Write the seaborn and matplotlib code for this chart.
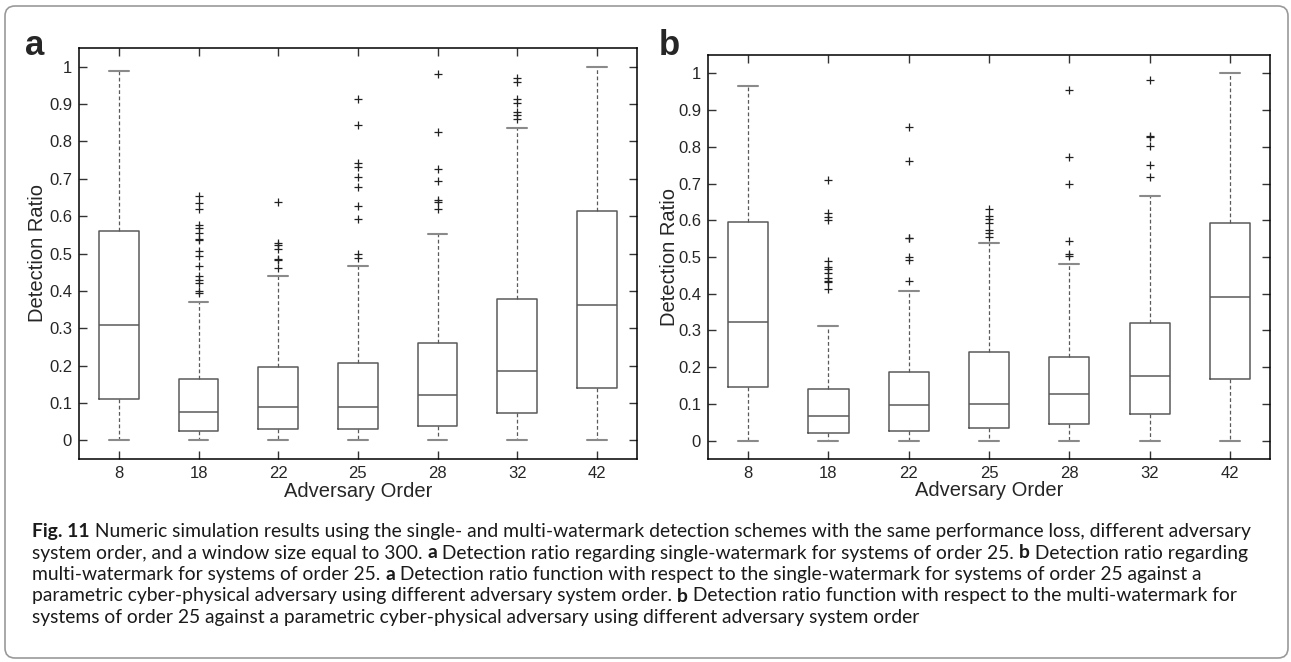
import numpy as np
import pandas as pd
import matplotlib
matplotlib.use("Agg")
import matplotlib.pyplot as plt
from matplotlib.patches import FancyBboxPatch
from matplotlib.transforms import IdentityTransform
import seaborn as sns

# ── data ─────────────────────────────────────────────────────────────────────
orders = ["8", "18", "22", "25", "28", "32", "42"]

# panel a: single-watermark
a_whislo = [0.0, 0.0, 0.0, 0.0, 0.0, 0.0, 0.0]
a_q1     = [0.111, 0.024, 0.031, 0.029, 0.038, 0.074, 0.139]
a_med    = [0.308, 0.075, 0.089, 0.090, 0.122, 0.186, 0.363]
a_q3     = [0.560, 0.165, 0.196, 0.207, 0.261, 0.379, 0.614]
a_whishi = [0.988, 0.369, 0.441, 0.467, 0.551, 0.836, 1.000]
a_fliers = [
    [],
    [0.654, 0.634, 0.619, 0.576, 0.567, 0.554, 0.540, 0.536, 0.506, 0.493,
     0.467, 0.439, 0.430, 0.420, 0.400, 0.393],
    [0.638, 0.529, 0.522, 0.513, 0.485, 0.482, 0.460],
    [0.913, 0.843, 0.743, 0.732, 0.706, 0.677, 0.628, 0.592, 0.500, 0.489],
    [0.980, 0.825, 0.726, 0.694, 0.642, 0.637, 0.618],
    [0.971, 0.960, 0.914, 0.904, 0.879, 0.872, 0.861],
    [],
]

# panel b: multi-watermark
b_whislo = [0.0, 0.0, 0.0, 0.0, 0.0, 0.0, 0.0]
b_q1     = [0.146, 0.022, 0.025, 0.034, 0.045, 0.072, 0.167]
b_med    = [0.323, 0.068, 0.097, 0.100, 0.127, 0.176, 0.390]
b_q3     = [0.594, 0.141, 0.187, 0.241, 0.228, 0.320, 0.592]
b_whishi = [0.966, 0.311, 0.407, 0.537, 0.482, 0.665, 1.000]
b_fliers = [
    [],
    [0.709, 0.619, 0.610, 0.601, 0.490, 0.474, 0.467, 0.456, 0.444, 0.436,
     0.431, 0.414],
    [0.855, 0.761, 0.553, 0.551, 0.499, 0.492, 0.435],
    [0.632, 0.612, 0.604, 0.592, 0.574, 0.565, 0.555],
    [0.956, 0.772, 0.700, 0.543, 0.508, 0.504],
    [0.983, 0.830, 0.826, 0.803, 0.750, 0.719],
    [],
]

x_label = "Adversary Order"
y_label = "Detection Ratio"
y_ticks = [0, 0.1, 0.2, 0.3, 0.4, 0.5, 0.6, 0.7, 0.8, 0.9, 1]

caption_lines = [
    [("Fig. 11", True), (" Numeric simulation results using the single- and multi-watermark "
                         "detection schemes with the same performance loss, different adversary", False)],
    [("system order, and a window size equal to 300. ", False), ("a", True),
     (" Detection ratio regarding single-watermark for systems of order 25. ", False), ("b", True),
     (" Detection ratio regarding", False)],
    [("multi-watermark for systems of order 25. ", False), ("a", True),
     (" Detection ratio function with respect to the single-watermark for systems of order 25 against a", False)],
    [("parametric cyber-physical adversary using different adversary system order. ", False), ("b", True),
     (" Detection ratio function with respect to the multi-watermark for", False)],
    [("systems of order 25 against a parametric cyber-physical adversary using different adversary system order", False)],
]

# ── style ────────────────────────────────────────────────────────────────────
sns.set_style("ticks")
plt.rcParams["font.family"] = ["Liberation Sans", "DejaVu Sans"]

W, H = 1291, 662
fig = plt.figure(figsize=(W / 100, H / 100), dpi=100)

BOX_C = "#5a5a5a"
CAP_C = "#8a8a8a"


def panel(rect, whislo, q1, med, q3, whishi, fliers, letter, letter_xy, ylab_x):
    ax = fig.add_axes(rect)
    stats = [dict(whislo=lo, q1=a, med=m, q3=b, whishi=hi, fliers=[])
             for lo, a, m, b, hi in zip(whislo, q1, med, q3, whishi)]
    pos = np.arange(len(orders))
    ax.bxp(stats, positions=pos, widths=0.5, showfliers=False, capwidths=0.25,
           boxprops=dict(color=BOX_C, lw=1.1),
           medianprops=dict(color=BOX_C, lw=1.1),
           whiskerprops=dict(color=BOX_C, lw=0.9, linestyle=(0, (3, 2))),
           capprops=dict(color=CAP_C, lw=1.5))
    fl = pd.DataFrame({"order": [i for i, f in enumerate(fliers) for _ in f],
                       "ratio": [v for f in fliers for v in f]})
    sns.scatterplot(data=fl, x="order", y="ratio", marker="+", color="#222222",
                    s=28, linewidth=0.9, ax=ax, zorder=3)
    ax.set_xlim(-0.5, len(orders) - 0.5)
    ax.set_ylim(-0.05, 1.05)
    ax.set_xticks(pos)
    ax.set_xticklabels(orders)
    ax.set_yticks(y_ticks)
    ax.set_yticklabels([f"{t:g}" for t in y_ticks])
    ax.tick_params(direction="in", top=True, right=True, length=6, width=1,
                   labelsize=12, color="#333333", pad=5)
    for sp in ax.spines.values():
        sp.set_linewidth(1.1)
        sp.set_color("black")
    ax.set_xlabel(x_label, fontsize=14.5)
    ax.set_ylabel(y_label, fontsize=14.5)
    ax.xaxis.set_label_coords(0.5, -0.055)
    ax.yaxis.set_label_coords(ylab_x, 0.5)
    fig.text(letter_xy[0] / W, 1 - letter_xy[1] / H, letter, fontsize=25,
             fontweight="bold", ha="left", va="baseline")
    return ax


ax_a = panel([79 / W, 1 - 459 / H, 557.7 / W, 411 / H],
             a_whislo, a_q1, a_med, a_q3, a_whishi, a_fliers, "a", (25, 55), -0.057)
ax_b = panel([708 / W, 1 - 459 / H, 562 / W, 404 / H],
             b_whislo, b_q1, b_med, b_q3, b_whishi, b_fliers, "b", (659, 55), -0.052)

# ── outer frame ──────────────────────────────────────────────────────────────
frame = FancyBboxPatch((5, H - 658), 1283, 652,
                       boxstyle="round,pad=0,rounding_size=10",
                       transform=IdentityTransform(), facecolor="none",
                       edgecolor="#9a9a9a", lw=1.2)
fig.add_artist(frame)

# ── caption ──────────────────────────────────────────────────────────────────
renderer = fig.canvas.get_renderer()
cap_font = ["Lato", "DejaVu Sans"]
y0 = H - 537
for i, line in enumerate(caption_lines):
    x = 32
    y = y0 - i * 21.5
    for txt, bold in line:
        t = fig.text(x, y, txt, transform=IdentityTransform(), fontsize=13.9,
                     family=cap_font, fontweight="bold" if bold else "normal",
                     ha="left", va="baseline", color="#1a1a1a")
        bb = t.get_window_extent(renderer)
        x = bb.x1

fig.savefig("out.png", dpi=100)
